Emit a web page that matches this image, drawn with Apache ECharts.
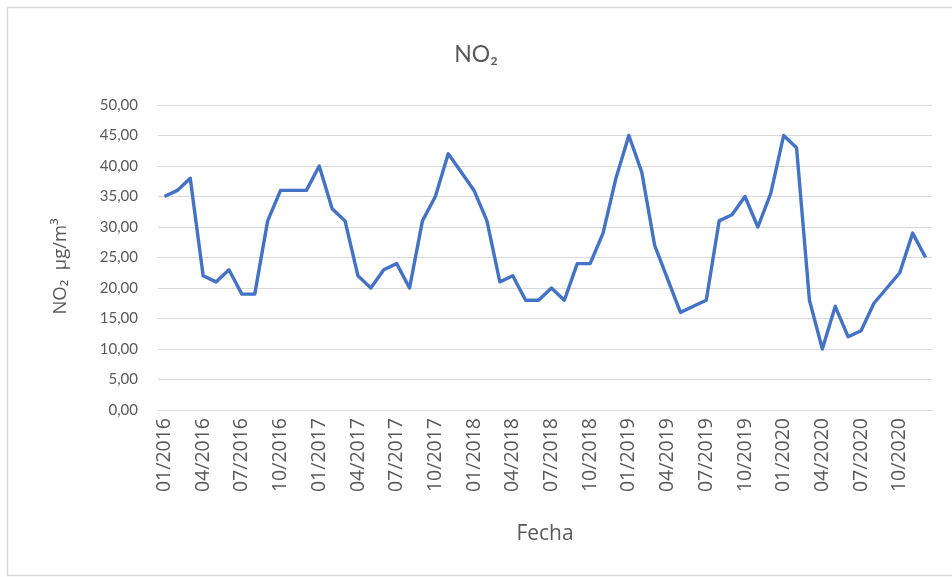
<!DOCTYPE html>
<html>
<head>
<meta charset="utf-8">
<script src="https://cdn.jsdelivr.net/npm/echarts@6/dist/echarts.min.js"></script>
<style>
  html, body { margin: 0; padding: 0; background: #ffffff; }
  #chart { width: 952px; height: 577px; }
</style>
</head>
<body>
<div id="chart"></div>
<script>
// Monthly mean NO2 concentration, 01/2016 – 12/2020
const months = [
  '01/2016','02/2016','03/2016','04/2016','05/2016','06/2016','07/2016','08/2016','09/2016','10/2016','11/2016','12/2016',
  '01/2017','02/2017','03/2017','04/2017','05/2017','06/2017','07/2017','08/2017','09/2017','10/2017','11/2017','12/2017',
  '01/2018','02/2018','03/2018','04/2018','05/2018','06/2018','07/2018','08/2018','09/2018','10/2018','11/2018','12/2018',
  '01/2019','02/2019','03/2019','04/2019','05/2019','06/2019','07/2019','08/2019','09/2019','10/2019','11/2019','12/2019',
  '01/2020','02/2020','03/2020','04/2020','05/2020','06/2020','07/2020','08/2020','09/2020','10/2020','11/2020','12/2020'
];

const no2 = [
  35, 36, 38, 22, 21, 23, 19, 19, 31, 36, 36, 36,
  40, 33, 31, 22, 20, 23, 24, 20, 31, 35, 42, 39,
  36, 31, 21, 22, 18, 18, 20, 18, 24, 24, 29, 38,
  45, 39, 27, 21.5, 16, 17, 18, 31, 32, 35, 30, 35.5,
  45, 43, 18, 10, 17, 12, 13, 17.5, 20, 22.5, 29, 25
];

const yTicks = { min: 0, max: 50, step: 5 };

const textColor = '#595959';
const gridColor = '#d9d9d9';
const titleFont = 'Lato, "Noto Sans", sans-serif';
const labelFont = '"Open Sans", "Noto Sans", sans-serif';

const chart = echarts.init(document.getElementById('chart'), null, { renderer: 'canvas' });

chart.setOption({
  backgroundColor: '#ffffff',
  animation: false,
  title: {
    text: 'NO₂',
    left: 'center',
    top: 38,
    textStyle: { color: textColor, fontSize: 23, fontWeight: 'normal', fontFamily: titleFont }
  },
  graphic: [{
    type: 'rect',
    left: 5, top: 5,
    shape: { width: 960, height: 568 },
    style: { fill: 'none', stroke: '#d9d9d9', lineWidth: 1.5 },
    silent: true
  }],
  grid: { left: 158, right: 20, top: 105, bottom: 167 },
  xAxis: {
    type: 'category',
    data: months,
    boundaryGap: true,
    name: 'Fecha',
    nameLocation: 'middle',
    nameGap: 114,
    nameTextStyle: { color: textColor, fontSize: 21, fontFamily: labelFont },
    axisLine: { show: true, lineStyle: { color: gridColor, width: 1 } },
    axisTick: { show: false },
    axisLabel: {
      interval: 2,
      rotate: 90,
      margin: 8,
      color: textColor,
      fontSize: 19.5,
      fontFamily: labelFont
    },
    splitLine: { show: false }
  },
  yAxis: {
    type: 'value',
    min: yTicks.min,
    max: yTicks.max,
    interval: yTicks.step,
    name: 'NO₂  µg/m³',
    nameLocation: 'middle',
    nameGap: 88,
    nameRotate: 90,
    nameTextStyle: { color: textColor, fontSize: 18.5, fontFamily: labelFont, padding: [0, 18, 0, 0] },
    axisLine: { show: false },
    axisTick: { show: false },
    axisLabel: {
      margin: 20,
      color: textColor,
      fontSize: 15,
      fontFamily: titleFont,
      formatter: v => v.toFixed(2).replace('.', ',')
    },
    splitLine: { lineStyle: { color: gridColor, width: 1 } }
  },
  series: [{
    type: 'line',
    data: no2,
    showSymbol: false,
    symbol: 'none',
    smooth: false,
    lineStyle: { color: '#4472c4', width: 3.4, join: 'round' },
    itemStyle: { color: '#4472c4' }
  }]
});
</script>
</body>
</html>
